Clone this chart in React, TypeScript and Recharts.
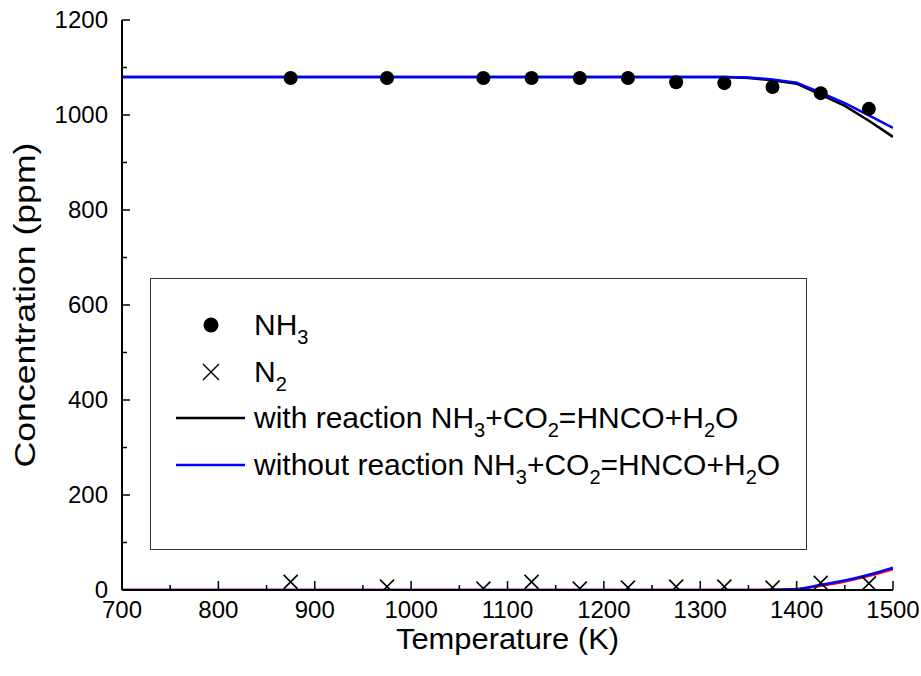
import React from "react";
import { ComposedChart, Line, Scatter, XAxis, YAxis, Legend, Label } from "recharts";

const FONT = "'Liberation Sans', Arial, Helvetica, sans-serif";

// axis ticks (minor ones every 50 K / 100 ppm)
const xTicks = [700, 750, 800, 850, 900, 950, 1000, 1050, 1100, 1150, 1200, 1250, 1300, 1350, 1400, 1450, 1500];
const yTicks = [0, 100, 200, 300, 400, 500, 600, 700, 800, 900, 1000, 1100, 1200];

// measured points
const expTemps = [875, 975, 1075, 1125, 1175, 1225, 1275, 1325, 1375, 1425, 1475];
const nh3Measured = [1078, 1078, 1078, 1078, 1078, 1078, 1069, 1067, 1059, 1046, 1013];
const n2Measured = [17, 7, 3, 17, 3, 5, 7, 7, 5, 15, 14];

// model curves
const modelTemps = [700, 750, 800, 850, 900, 950, 1000, 1050, 1100, 1150, 1200, 1250, 1300, 1325, 1350, 1375, 1400, 1425, 1450, 1475, 1500];
const nh3With = [1080, 1080, 1080, 1080, 1080, 1080, 1080, 1080, 1080, 1080, 1080, 1080, 1080, 1080, 1078, 1073, 1066, 1043, 1019, 988, 954];
const nh3Without = [1080, 1080, 1080, 1080, 1080, 1080, 1080, 1080, 1080, 1080, 1080, 1080, 1080, 1080, 1079, 1075, 1068, 1047, 1025, 999, 973];
const n2With = [0, 0, 0, 0, 0, 0, 0, 0, 0, 0, 0, 0, 0, 0, 0, 0.3, 1.5, 9, 18, 30, 44];
const n2Without = [0, 0, 0, 0, 0, 0, 0, 0, 0, 0, 0, 0, 0, 0, 0, 0.5, 2, 11, 20, 32, 47];

const pts = (xs: number[], ys: number[]) => xs.map((t, i) => ({ t, v: ys[i] }));

function XTick({ x, y, payload }: any) {
  const major = payload.value % 100 === 0;
  return (
    <g>
      <line x1={x} x2={x} y1={y} y2={y - (major ? 9 : 5)} stroke="#000" strokeWidth={1.5} />
      {major && (
        <text x={x} y={y + 28} textAnchor="middle" fontSize={24} fontFamily={FONT} fill="#000">
          {payload.value}
        </text>
      )}
    </g>
  );
}

function YTick({ x, y, payload }: any) {
  const major = payload.value % 200 === 0;
  return (
    <g>
      <line x1={x} x2={x + (major ? 8 : 5)} y1={y} y2={y} stroke="#000" strokeWidth={1.5} />
      {major && (
        <text x={x - 14} y={y + 8} textAnchor="end" fontSize={24} fontFamily={FONT} fill="#000">
          {payload.value}
        </text>
      )}
    </g>
  );
}

function Dot({ cx, cy }: any) {
  return <circle cx={cx} cy={cy} r={7} fill="#000" />;
}

function Cross({ cx, cy }: any) {
  const s = 7;
  return (
    <g stroke="#000" strokeWidth={1.6}>
      <line x1={cx - s} y1={cy - s} x2={cx + s} y2={cy + s} />
      <line x1={cx - s} y1={cy + s} x2={cx + s} y2={cy - s} />
    </g>
  );
}

const sub = (s: string) => (
  <span style={{ fontSize: 20, position: "relative", top: 9 }}>{s}</span>
);

function LegendBox() {
  const row = (top: number, marker: React.ReactNode, label: React.ReactNode) => (
    <div style={{ position: "absolute", left: 0, top, width: "100%", height: 34 }}>
      <svg width={100} height={34} style={{ position: "absolute", left: 0, top: 0 }}>
        {marker}
      </svg>
      <div style={{ position: "absolute", left: 103, top: 0, lineHeight: "34px", whiteSpace: "nowrap" }}>
        {label}
      </div>
    </div>
  );
  return (
    <div
      style={{
        position: "relative",
        width: 657,
        height: 272,
        border: "1px solid #333",
        boxSizing: "border-box",
        background: "#fff",
        fontFamily: FONT,
        fontSize: 30,
        color: "#000",
      }}
    >
      {row(29, <circle cx={60} cy={17} r={7.5} fill="#000" />, <>NH{sub("3")}</>)}
      {row(
        76,
        <g stroke="#000" strokeWidth={1.4}>
          <line x1={52} y1={9} x2={68} y2={25} />
          <line x1={52} y1={25} x2={68} y2={9} />
        </g>,
        <>N{sub("2")}</>,
      )}
      {row(
        122,
        <line x1={25} x2={94} y1={17} y2={17} stroke="#000" strokeWidth={2.5} />,
        <>with reaction NH{sub("3")}+CO{sub("2")}=HNCO+H{sub("2")}O</>,
      )}
      {row(
        169,
        <line x1={25} x2={94} y1={17} y2={17} stroke="#0000ff" strokeWidth={2.5} />,
        <>without reaction NH{sub("3")}+CO{sub("2")}=HNCO+H{sub("2")}O</>,
      )}
    </div>
  );
}

export default function App() {
  return (
    <div style={{ position: "absolute", left: 0, top: 0, width: 921, height: 676, background: "#fff" }}>
      <ComposedChart width={921} height={676} margin={{ top: 20, right: 28, bottom: 0, left: 0 }}>
        <XAxis
          xAxisId="main"
          dataKey="t"
          type="number"
          domain={[700, 1500]}
          ticks={xTicks}
          interval={0}
          height={86}
          tickSize={0}
          tickMargin={0}
          tickLine={false}
          tick={<XTick />}
          axisLine={{ stroke: "#000", strokeWidth: 2 }}
          allowDataOverflow
        >
          <Label
            content={({ viewBox }: any) => (
              <text
                x={viewBox.x + viewBox.width / 2}
                y={viewBox.y + 59}
                textAnchor="middle"
                fontSize={29}
                textLength={223}
                lengthAdjust="spacingAndGlyphs"
                fontFamily={FONT}
                fill="#000"
              >
                Temperature (K)
              </text>
            )}
          />
        </XAxis>
        <XAxis xAxisId="top" orientation="top" type="number" domain={[700, 1500]} height={0} tick={false} tickLine={false} axisLine={{ stroke: "#000", strokeWidth: 2 }} />
        <YAxis
          yAxisId="main"
          type="number"
          domain={[0, 1200]}
          ticks={yTicks}
          interval={0}
          width={122}
          tickSize={0}
          tickMargin={0}
          tickLine={false}
          tick={<YTick />}
          axisLine={{ stroke: "#000", strokeWidth: 2 }}
          allowDataOverflow
        >
          <Label
            content={({ viewBox }: any) => {
              const cx = viewBox.x + 25;
              const cy = viewBox.y + viewBox.height / 2;
              return (
                <text
                  x={cx}
                  y={cy}
                  transform={`rotate(-90 ${cx} ${cy})`}
                  textAnchor="middle"
                  dominantBaseline="central"
                  fontSize={29}
                  textLength={325}
                  lengthAdjust="spacingAndGlyphs"
                  fontFamily={FONT}
                  fill="#000"
                >
                  Concentration (ppm)
                </text>
              );
            }}
          />
        </YAxis>
        <YAxis yAxisId="right" orientation="right" type="number" domain={[0, 1200]} width={0} tick={false} tickLine={false} axisLine={{ stroke: "#000", strokeWidth: 2 }} />

        <Line xAxisId="main" yAxisId="main" data={pts(modelTemps, nh3With)} dataKey="v" type="linear" stroke="#000" strokeWidth={2.5} dot={false} isAnimationActive={false} />
        <Line xAxisId="main" yAxisId="main" data={pts(modelTemps, nh3Without)} dataKey="v" type="linear" stroke="#0000ff" strokeWidth={2.5} dot={false} isAnimationActive={false} />
        <Line xAxisId="main" yAxisId="main" data={pts(modelTemps, n2With)} dataKey="v" type="monotone" stroke="#ff0000" strokeWidth={2.5} dot={false} isAnimationActive={false} />
        <Line xAxisId="main" yAxisId="main" data={pts(modelTemps, n2Without)} dataKey="v" type="monotone" stroke="#0000ff" strokeWidth={2.5} dot={false} isAnimationActive={false} />
        <Scatter xAxisId="main" yAxisId="main" data={pts(expTemps, nh3Measured)} dataKey="v" shape={<Dot />} isAnimationActive={false} />
        <Scatter xAxisId="main" yAxisId="main" data={pts(expTemps, n2Measured)} dataKey="v" shape={<Cross />} isAnimationActive={false} />

        <Legend
          layout="vertical"
          align="center"
          verticalAlign="middle"
          content={() => <LegendBox />}
          wrapperStyle={{ left: 150, top: 278, width: 657, height: 272 }}
        />
      </ComposedChart>
    </div>
  );
}
